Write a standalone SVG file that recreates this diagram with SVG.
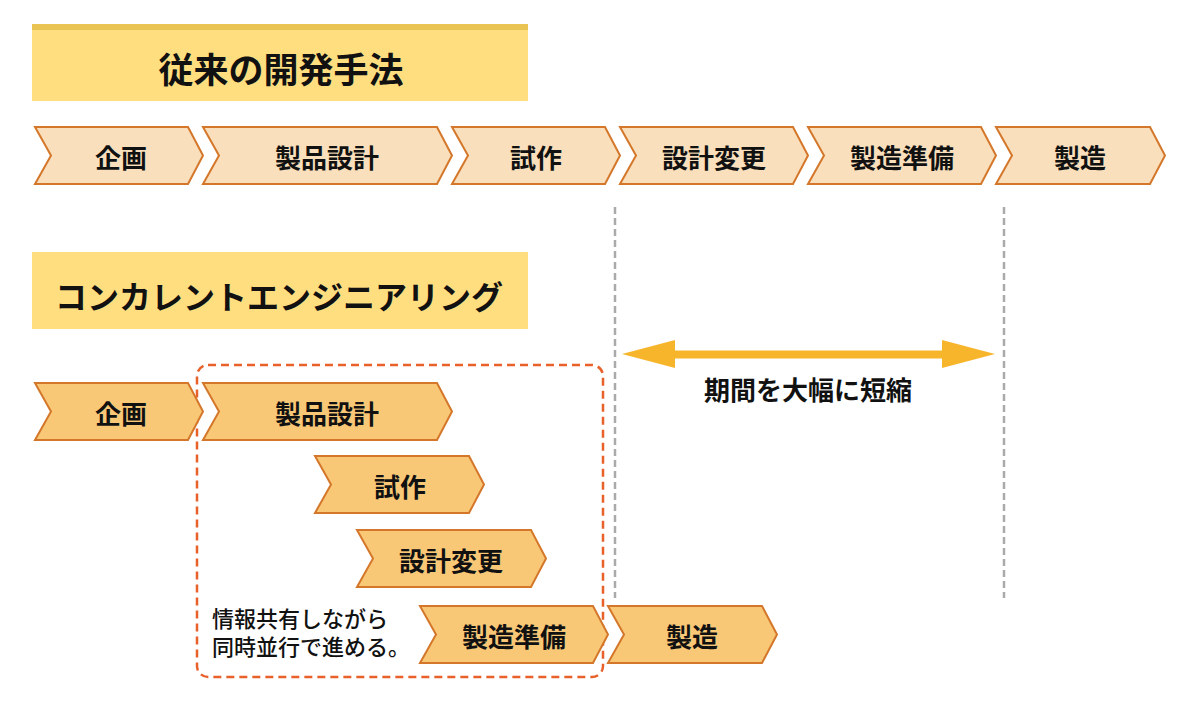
<svg xmlns="http://www.w3.org/2000/svg" width="1200" height="704" viewBox="0 0 1200 704">
<style>
.t{font-family:"Noto Sans CJK JP","Noto Sans",sans-serif;font-weight:bold;fill:#111;text-anchor:middle;dominant-baseline:central}
.title{font-size:35px}
.title2{font-size:32px}
.lab{font-size:26px}
.c1{fill:#F9DFBB;stroke:#D4772A;stroke-width:2}
.c2{fill:#F9C877;stroke:#D4772A;stroke-width:2}
.bar{fill:#FFDE80}
.stripe{fill:#E9C454}
.note{font-family:"Noto Sans CJK JP","Noto Sans",sans-serif;font-size:22px;font-weight:500;fill:#111}
</style>
<rect width="1200" height="704" fill="#fff"/>
<g id="title1">
<rect class="bar" x="32" y="24" width="496" height="77"/>
<rect class="stripe" x="32" y="24" width="496" height="6"/>
<text class="t title" x="281" y="67">従来の開発手法</text>
</g>
<g id="row1">
<g id="r1-kikaku"><polygon class="c1" points="35,127 188,127 203,155.5 188,184 35,184 51,155.5"/><text class="t lab" x="121" y="156">企画</text></g>
<g id="r1-seihin"><polygon class="c1" points="203,127 437,127 452,155.5 437,184 203,184 219,155.5"/><text class="t lab" x="327" y="156">製品設計</text></g>
<g id="r1-shisaku"><polygon class="c1" points="452,127 605,127 620,155.5 605,184 452,184 468,155.5"/><text class="t lab" x="536" y="156">試作</text></g>
<g id="r1-henkou"><polygon class="c1" points="620,127 793,127 808,155.5 793,184 620,184 636,155.5"/><text class="t lab" x="714" y="156">設計変更</text></g>
<g id="r1-junbi"><polygon class="c1" points="808,127 981,127 996,155.5 981,184 808,184 824,155.5"/><text class="t lab" x="902" y="156">製造準備</text></g>
<g id="r1-seizou"><polygon class="c1" points="996,127 1150,127 1165,155.5 1150,184 996,184 1012,155.5"/><text class="t lab" x="1080" y="156">製造</text></g>
</g>
<g id="connectors">
<line x1="615" y1="207" x2="615" y2="598" stroke="#AAAAAA" stroke-width="2.5" stroke-dasharray="7 4"/>
<line x1="1004" y1="207" x2="1004" y2="598" stroke="#AAAAAA" stroke-width="2.5" stroke-dasharray="7 4"/>
<polygon fill="#F7B52C" points="622,354 675,340 675,350.5 942,350.5 942,340 995,354 942,368 942,358.5 675,358.5 675,368"/>
</g>
<text class="t lab" x="808" y="388">期間を大幅に短縮</text>
<g id="title2">
<rect class="bar" x="32" y="252" width="496" height="77"/>
<text class="t title2" x="279" y="295">コンカレントエンジニアリング</text>
</g>
<g id="group-box">
<rect x="197" y="365" width="406" height="312" rx="11" ry="11" fill="none" stroke="#E9612A" stroke-width="2.5" stroke-dasharray="8 5"/>
<text class="note" x="212" y="627">情報共有しながら<tspan x="212" dy="28">同時並行で進める。</tspan></text>
</g>
<g id="row2">
<g id="r2-kikaku"><polygon class="c2" points="35,383 188,383 203,411.5 188,440 35,440 51,411.5"/><text class="t lab" x="121" y="412">企画</text></g>
<g id="r2-seihin"><polygon class="c2" points="203,383 437,383 452,411.5 437,440 203,440 219,411.5"/><text class="t lab" x="327" y="412">製品設計</text></g>
<g id="r2-shisaku"><polygon class="c2" points="315,456 469,456 484,484.5 469,513 315,513 331,484.5"/><text class="t lab" x="400" y="485">試作</text></g>
<g id="r2-henkou"><polygon class="c2" points="357,530 531,530 546,558.5 531,587 357,587 373,558.5"/><text class="t lab" x="451" y="559">設計変更</text></g>
<g id="r2-junbi"><polygon class="c2" points="420,606 593,606 608,634.5 593,663 420,663 436,634.5"/><text class="t lab" x="514" y="635">製造準備</text></g>
<g id="r2-seizou"><polygon class="c2" points="608,606 762,606 777,634.5 762,663 608,663 624,634.5"/><text class="t lab" x="692" y="635">製造</text></g>
</g>
</svg>
